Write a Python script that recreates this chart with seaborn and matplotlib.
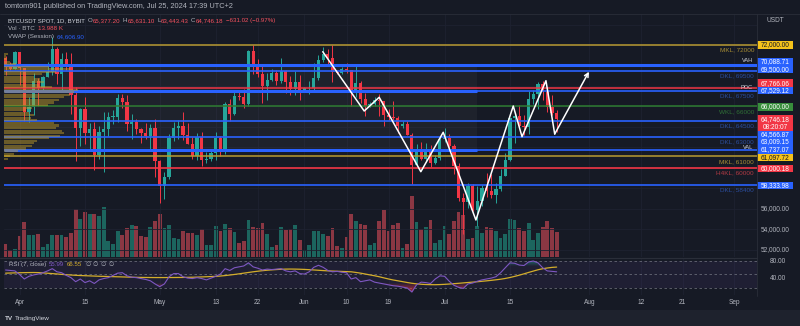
import numpy as np
import pandas as pd
import matplotlib
matplotlib.use("Agg")
import matplotlib.pyplot as plt
from matplotlib.patches import Rectangle
import seaborn as sns

# ---------------- data: BTCUSDT spot, daily, 29 Mar - 25 Jul 2024 ----------------
dates = pd.date_range("2024-03-29", "2024-07-25", freq="D")

opens = [70744, 69892, 69645, 71333, 69702, 65446, 65980, 68508, 67837, 68896,
         69361, 71620, 69146, 70631, 70006, 67117, 63924, 65740, 63419, 63793,
         61277, 63470, 63818, 64941, 64960, 66837, 66408, 64277, 64481, 63755,
         63420, 63107, 63841, 60636, 58254, 59123, 62889, 63891, 64031, 63161,
         62334, 61187, 63049, 60792, 60825, 61484, 62940, 61577, 66206, 65235,
         67024, 66915, 66274, 71446, 70148, 69166, 67969, 68549, 69290, 68507,
         69436, 68398, 67652, 68353, 67531, 67760, 67819, 68805, 70567, 71082,
         70757, 69342, 69305, 69647, 69512, 67319, 68243, 66756, 66011, 66192,
         66639, 66491, 65140, 64960, 64828, 64096, 64252, 63180, 60277, 61804,
         60864, 61706, 60427, 60986, 62772, 62900, 62135, 60208, 57050, 56628,
         58230, 55849, 56705, 58009, 57742, 57345, 57899, 59232, 60788, 64870,
         65097, 64118, 63974, 66710, 67163, 68166, 67533, 65937, 65377.20]
highs = [70913, 70355, 71377, 71342, 69708, 66914, 69291, 68725, 69000, 70327,
         72797, 71758, 71172, 71305, 71227, 67932, 65840, 66878, 64365, 64499,
         64125, 65450, 65419, 65666, 67232, 67199, 67075, 65275, 64792, 63900,
         64361, 64236, 64735, 60781, 59603, 63320, 64494, 64646, 65494, 64390,
         62995, 63421, 63469, 61490, 61844, 63450, 63118, 66444, 66752, 67451,
         67400, 67700, 71515, 71980, 70666, 70096, 69250, 69610, 69562, 70687,
         69591, 68935, 69500, 69020, 67860, 68460, 70288, 71063, 71758, 71625,
         71997, 69582, 69850, 70196, 69563, 69999, 68449, 67315, 66400, 66950,
         67188, 66556, 65738, 66482, 65066, 64520, 64524, 63369, 62292, 62487,
         62389, 62225, 61224, 63058, 63861, 63288, 62285, 60499, 57546, 58475,
         58449, 58236, 58296, 59470, 59360, 58526, 59850, 61420, 64900, 65388,
         66128, 65133, 67486, 67598, 68366, 68480, 67818, 67102, 65631.10]
lows = [69076, 69601, 69624, 68110, 64586, 64493, 65113, 66011, 67438, 68824,
        69043, 68210, 67518, 69567, 65254, 60660, 62134, 62333, 61600, 59768,
        60833, 59600, 63090, 64229, 64500, 65863, 63589, 62784, 63322, 62424,
        62794, 61765, 59120, 56552, 56937, 58848, 62599, 62822, 62746, 62285,
        60888, 60769, 60187, 60492, 60610, 60749, 61142, 61320, 64603, 65107,
        66600, 65857, 66060, 69162, 68832, 66312, 66600, 68500, 68128, 68250,
        67277, 67124, 67119, 66670, 67445, 67257, 67612, 68567, 70383, 70120,
        68420, 69208, 69125, 69233, 66051, 66902, 66300, 65078, 65890, 66036,
        65104, 64060, 64693, 64559, 63379, 63929, 63178, 58402, 60239, 60712,
        60606, 60063, 60383, 60712, 62497, 61806, 59400, 56771, 53485, 56018,
        55724, 54260, 56289, 57157, 57052, 56542, 57756, 59200, 60633, 62373,
        63900, 63238, 63300, 66222, 65777, 66573, 65441, 65111, 63443.43]
closes = [69892, 69645, 71333, 69702, 65446, 65980, 68508, 67837, 68896, 69361,
          71620, 69146, 70631, 70006, 67117, 63924, 65740, 63419, 63793, 61277,
          63470, 63818, 64941, 64960, 66837, 66408, 64277, 64481, 63755, 63420,
          63107, 63841, 60636, 58254, 59123, 62889, 63891, 64031, 63161, 62334,
          61187, 63049, 60792, 60825, 61484, 62940, 61577, 66206, 65235, 67024,
          66915, 66274, 71446, 70148, 69166, 67969, 68549, 69290, 68507, 69436,
          68398, 67652, 68353, 67531, 67760, 67819, 68805, 70567, 71082, 70757,
          69342, 69305, 69647, 69512, 67319, 68243, 66756, 66011, 66192, 66639,
          66491, 65140, 64960, 64828, 64096, 64252, 63180, 60277, 61804, 60864,
          61706, 60427, 60986, 62772, 62900, 62135, 60208, 57050, 56628, 58230,
          55849, 56705, 58009, 57742, 57345, 57899, 59232, 60788, 64870, 65097,
          64118, 63974, 66710, 67163, 68166, 67533, 65937, 65377.20, 64746.18]
volume_k = [7.5, 3.7, 4.3, 11.6, 19.6, 12.5, 12.5, 13.1, 5.6, 7.3,
            12.5, 12.1, 12.5, 11.2, 13.6, 26.7, 21.1, 25.2, 23.9, 23.9,
            22.8, 28.0, 8.8, 7.3, 14.4, 12.5, 16.2, 17.7, 17.2, 11.7,
            11.2, 16.6, 20.3, 23.9, 16.2, 17.7, 10.6, 10.3, 14.4, 13.2,
            13.2, 12.1, 15.7, 6.9, 6.9, 17.2, 14.7, 18.5, 16.0, 14.0,
            7.6, 9.1, 20.5, 16.6, 16.2, 19.0, 12.7, 5.6, 6.9, 16.6,
            15.1, 15.9, 18.1, 9.3, 3.7, 6.5, 14.5, 14.5, 13.1, 11.7,
            16.4, 6.0, 5.2, 11.0, 23.9, 20.3, 18.5, 17.7, 6.7, 7.8,
            20.1, 26.5, 14.4, 17.7, 19.0, 5.2, 7.1, 34.0, 19.8, 15.9,
            16.8, 20.9, 8.0, 9.3, 17.2, 12.7, 20.0, 25.2, 23.7, 10.3,
            10.8, 17.3, 13.2, 16.6, 16.2, 14.4, 10.8, 13.1, 21.1, 20.9,
            16.2, 14.7, 19.2, 9.7, 13.6, 16.6, 20.0, 16.4, 13.988]

# RSI(7) and its moving average, one value per candle
rsi_values = [60, 59, 58, 50, 40, 46, 49, 51, 54, 58, 63, 56, 54, 48, 43, 34, 40, 32, 36, 30,
              38, 41, 43, 48, 53, 54, 47, 44, 43, 41, 39, 36, 29,
              23, 29, 45, 52, 52, 45, 42, 41, 43, 41, 38, 42, 46, 51, 63, 59, 65, 67, 69, 76,
              67, 64, 60, 62, 61, 62, 63, 58, 56, 58, 52,
              51, 56, 66, 70.5, 66, 59, 56, 57, 55, 54, 40, 43, 34, 36, 38, 33, 31, 29, 27, 25,
              24, 22, 20, 11, 27, 33, 32, 30, 40, 47,
              46, 35, 26, 21.5, 19, 29, 31, 35, 38, 40, 42, 45, 54, 65, 76, 75, 71, 70, 78, 80,
              76, 65, 58, 57, 55.99]
rsi_ma_values = [53, 53.3, 53.6, 53.9, 54.1, 54.3, 54.4, 54.2, 53.6, 52.8, 52, 51.2, 50.3, 49.5,
                 48.8, 48.2, 47.7, 47.3, 46.9, 46.5, 46.1, 45.8, 45.5, 45.2, 44.9, 44.6, 44.3,
                 44, 43.7, 43.5, 43.4, 43.3, 43.2, 43.2, 43.2, 43.3, 43.3, 43.4, 43.5, 43.7,
                 43.9, 44.2, 44.6, 45, 45.4, 45.8, 46.6, 47.6, 48.8, 50.1, 51.5, 53, 54.5, 56,
                 57.3, 58.5, 59.5, 60.3, 61, 61.6, 62, 62.1, 62, 61.7, 61.3, 60.7, 60.1, 59.4,
                 58.7, 58.1, 57.6, 57.2, 56.8, 56.4, 56, 54.6, 53, 51.1, 49.1, 47.2, 45, 42.5,
                 40, 37.8, 36, 34.1, 32.2, 30.5, 29.2, 28.3, 27.7, 27.4, 27.3, 27.6, 28.1, 28.8,
                 29.6, 30.4, 31.3, 32.2, 33, 33.9, 34.9, 35.9, 37, 38.2, 39.5, 41.2, 43.3, 45.8,
                 48.5, 51.5, 54.6, 57.6, 60.5, 62.8, 64.5, 65.8, 66.55]

# fixed-range volume profile (row low price, relative row volume), top to bottom
profile_rows = list(range(71000, 60500, -250))
profile_volume = [4, 2, 3, 6, 12, 45, 66, 52, 38, 30, 36, 40, 35, 48, 74, 70, 66, 60, 55, 50,
                  44, 28, 22, 25, 30, 27, 33, 50, 55, 52, 58, 60, 56, 45, 33, 30, 28, 22, 14,
                  10, 6, 4]
profile_end = pd.Timestamp("2024-07-08")

# horizontal key levels
level_prices = [72000.00, 70088.71, 69500.00, 67766.06, 67529.12, 66000.00,
                64566.87, 63009.15, 61737.07, 61097.72, 60000.18, 58333.98]
level_kinds = ["mkl", "va", "dkl", "red", "poc", "wkl", "dkl", "dkl", "val", "mkl", "h4", "dkl"]
level_names = ["MKL, 72000", "", "DKL, 69500", "", "DKL, 67500", "WKL, 66000",
               "DKL, 64500", "DKL, 63000", "", "MKL, 61000", "H4KL, 60000", "DKL, 58400"]
level_tags = ["", "VAH", "", "", "POC", "", "", "", "VAL", "", "", ""]

# hand-drawn projection path (date, price)
path_dates = pd.to_datetime(["2024-06-04 22:00", "2024-06-13 19:00", "2024-06-17 00:00",
                             "2024-06-25 22:00", "2024-06-30 17:00", "2024-07-07 17:00",
                             "2024-07-15 17:00", "2024-07-17 14:00", "2024-07-22 17:00",
                             "2024-07-24 14:00", "2024-07-31 22:00"], format="%Y-%m-%d %H:%M")
path_prices = [71345, 65545, 66885, 59609, 63462, 54885, 66034, 63032, 68509, 63296, 69389]

last_close = 64746.18
countdown = "08:20:07"

# ---------------- styling ----------------
BG = "#161a25"
FOOT = "#1e222d"
GRID = "#1e2230"
SEP = "#2a2e39"
TXT = "#b2b5be"
UP, DOWN = "#26a69a", "#f23645"
BLUE, GOLD, GREEN = "#2962ff", "#c9a227", "#388e3c"

sns.set_theme(style="dark", rc={"axes.facecolor": BG, "figure.facecolor": BG})
plt.rcParams["font.family"] = ["Liberation Sans", "DejaVu Sans"]

W, H = 800, 326
fig = plt.figure(figsize=(W / 100, H / 100), dpi=100, facecolor=BG)


def fx(px):
    return px / W


def fy(py):
    return 1 - py / H


PANE_L, PANE_R = 4, 757
PRICE_T, PRICE_B = 14, 257
RSI_T, RSI_B = 258, 295
X_LO, X_HI = -0.34, 160.9
P_MIN, P_MAX = 51267, 75032
R_MIN, R_MAX = 4.4, 86.7
VOL_MAX = 136

rect_price = [fx(PANE_L), fy(PRICE_B), (PANE_R - PANE_L) / W, (PRICE_B - PRICE_T) / H]
ax_vol = fig.add_axes(rect_price)
ax = fig.add_axes(rect_price)
ax_rsi = fig.add_axes([fx(PANE_L), fy(RSI_B), (PANE_R - PANE_L) / W, (RSI_B - RSI_T) / H])

idx = np.arange(len(dates))
o, h, l, c = (np.array(v, dtype=float) for v in (opens, highs, lows, closes))
up = c >= o
candle_col = np.where(up, UP, DOWN)


def day_pos(ts):
    return (pd.Timestamp(ts) - dates[0]) / pd.Timedelta(days=1)


def price_py(p):
    return PRICE_T + (P_MAX - p) / (P_MAX - P_MIN) * (PRICE_B - PRICE_T)


def pos_px(x):
    return PANE_L + (x - X_LO) / (X_HI - X_LO) * (PANE_R - PANE_L)


# grid
tick_dates = ["2024-04-01", "2024-04-15", "2024-05-01", "2024-05-13", "2024-05-22", "2024-06-01",
              "2024-06-10", "2024-06-19", "2024-07-01", "2024-07-15", "2024-08-01", "2024-08-12",
              "2024-08-21", "2024-09-01"]
tick_text = ["Apr", "15", "May", "13", "22", "Jun", "10", "19", "Jul", "15", "Aug", "12", "21", "Sep"]
for d in tick_dates:
    xp = day_pos(d)
    ax.axvline(xp, color=GRID, lw=0.6, zorder=0)
    ax_rsi.axvline(xp, color=GRID, lw=0.6, zorder=0)
for p in range(52000, 76000, 2000):
    ax.axhline(p, color=GRID, lw=0.6, zorder=0)

# volume
vol_col = np.where(up, "#22ab94", "#f7525f")
ax_vol.bar(idx, volume_k, width=0.8, color=vol_col, alpha=0.52, linewidth=0)

# value area shading of the profile
pe = day_pos(profile_end)
va_hi, va_lo = level_prices[1], level_prices[8]
ax.add_patch(Rectangle((X_LO, va_lo), pe - X_LO, va_hi - va_lo, facecolor="white",
                       alpha=0.035, edgecolor="none", zorder=0.5))

# candles
ax.vlines(idx, l, h, colors=candle_col, lw=0.7, zorder=3)
body_lo = np.minimum(o, c)
body_h = np.maximum(np.abs(c - o), 70)
ax.bar(idx, body_h, bottom=body_lo, width=0.68, color=candle_col, linewidth=0, zorder=3.1)

# horizontal levels
line_style = {
    "mkl": dict(color="#b89a32", lw=1.1),
    "va": dict(color=BLUE, lw=2.2),
    "dkl": dict(color=BLUE, lw=1.2),
    "red": dict(color=DOWN, lw=1.1),
    "poc": dict(color=BLUE, lw=1.2),
    "val": dict(color=BLUE, lw=1.2),
    "wkl": dict(color="#2e7d32", lw=1.1),
    "h4": dict(color=DOWN, lw=1.2),
}
name_color = {"mkl": "#a88d33", "dkl": "#2b4d9e", "poc": "#2b4d9e", "wkl": "#2f7036",
              "h4": "#b23a44"}
for p, k in zip(level_prices, level_kinds):
    ax.axhline(p, zorder=4, **line_style[k])
    if k in ("poc", "val"):
        ax.hlines(p, X_LO, pe, color=BLUE, lw=2.2, zorder=4)

# volume profile histogram
prof_scale = 15.8 / max(profile_volume)
ax.barh(np.array(profile_rows) + 125, np.array(profile_volume) * prof_scale, height=210,
        left=X_LO, color=GOLD, alpha=0.45, linewidth=0, zorder=5)

# projection path
px_path = [day_pos(d) for d in path_dates]
sns.lineplot(x=px_path[:-1], y=path_prices[:-1], sort=False, estimator=None, color="white",
             lw=1.1, ax=ax, zorder=6, legend=False)
ax.annotate("", xy=(px_path[-1], path_prices[-1]), xytext=(px_path[-2], path_prices[-2]),
            arrowprops=dict(arrowstyle="->", color="white", lw=1.1, shrinkA=0, shrinkB=0,
                            mutation_scale=7), zorder=6)

# ---- RSI pane ----
rsi = np.array(rsi_values, dtype=float)
ax_rsi.axhspan(20, 80, color="#7e57c2", alpha=0.09, lw=0, zorder=0)
for lvl in (80, 50, 20):
    ax_rsi.axhline(lvl, color="#787b86", lw=0.6, ls=(0, (3, 3)), alpha=0.8, zorder=1)
# gradient fills beyond 70 / 30
for t in np.arange(70, 100, 2.5):
    ax_rsi.fill_between(idx, t, rsi, where=rsi > t, interpolate=True, color="#26a69a",
                        alpha=0.12, lw=0, zorder=2)
for t in np.arange(30, 0, -2.5):
    ax_rsi.fill_between(idx, t, rsi, where=rsi < t, interpolate=True, color=DOWN,
                        alpha=0.12, lw=0, zorder=2)
sns.lineplot(x=idx, y=rsi_ma_values, color="#d4ae2b", lw=0.9, ax=ax_rsi, zorder=3, legend=False)
sns.lineplot(x=idx, y=rsi, color="#7e57c2", lw=0.8, ax=ax_rsi, zorder=4, legend=False)

for a in (ax_vol, ax, ax_rsi):
    a.set_xlim(X_LO, X_HI)
    a.set_axis_off()
ax.set_ylim(P_MIN, P_MAX)
ax_vol.set_ylim(0, VOL_MAX)
ax_rsi.set_ylim(R_MIN, R_MAX)

# ---- frame pieces ----
fig.add_artist(Rectangle((0, 0), 1, 16 / H, transform=fig.transFigure, facecolor=FOOT,
                         edgecolor="none"))
fig.add_artist(plt.Line2D([0, 1], [fy(14), fy(14)], color=SEP, lw=0.6))
fig.add_artist(plt.Line2D([0, fx(PANE_R)], [fy(257.5), fy(257.5)], color=SEP, lw=0.8))
fig.add_artist(plt.Line2D([fx(PANE_R), fx(PANE_R)], [fy(296), fy(14)], color=SEP, lw=0.6))

renderer = fig.canvas.get_renderer()


def text_run(x_px, y_px, parts, size, gap=2.2):
    x = x_px
    for s, col in parts:
        t = fig.text(fx(x), fy(y_px), s, color=col, fontsize=size, ha="left", va="center")
        x += t.get_window_extent(renderer=renderer).width + gap
    return x


RED_T = "#f7525f"
fig.text(fx(5), fy(7), "tomtom901 published on TradingView.com, Jul 25, 2024 17:39 UTC+2",
         color=TXT, fontsize=5.3, ha="left", va="center")
x0 = text_run(8, 20.5, [("BTCUSDT SPOT, 1D, BYBIT", "#d1d4dc")], 4.3, gap=3)
for lab, val in (("O", opens[-1]), ("H", highs[-1]), ("L", lows[-1]), ("C", closes[-1])):
    x0 = text_run(x0, 20.5, [(lab, TXT)], 4.4, gap=0.3)
    x0 = text_run(x0, 20.5, [(f"{val:,.2f}", RED_T)], 4.4, gap=2.4)
chg = closes[-1] - opens[-1]
text_run(x0, 20.5, [(f"\u2212{abs(chg):,.2f} (\u2212{abs(chg) / opens[-1] * 100:.2f}%)", RED_T)], 4.4)
text_run(8, 28.5, [("Vol \u00b7 BTC", TXT), (f"{volume_k[-1]:.3f} K", RED_T)], 4.5, gap=3)
text_run(8, 36.5, [("VWAP (Session)", TXT), ("64,606.90", BLUE)], 4.5, gap=3)

# line names and tags next to the price scale
for p, k, nm, tg in zip(level_prices, level_kinds, level_names, level_tags):
    yp = price_py(p)
    if nm:
        dy = 4.4 if k == "dkl" and p < 63100 and p > 62900 else 5.2
        fig.text(fx(754), fy(yp + dy), nm, color=name_color[k], fontsize=4.6, ha="right",
                 va="center")
    if tg:
        dy = {"VAH": -4.5, "POC": -3.6, "VAL": -2.6}[tg]
        fig.text(fx(753), fy(yp + dy), tg, color="#d1d4dc", fontsize=4.1, ha="right", va="center")

# price scale tags
tag_face = {"mkl": "#f5c21b", "va": BLUE, "dkl": BLUE, "red": DOWN, "poc": BLUE, "val": BLUE,
            "wkl": GREEN, "h4": DOWN}
tag_shift = [0, -2.5, -1, -5, -0.3, 0.6, 14, 5, 0, 1, 0.8, 0.8]


def price_tag(y_px, text, face, fg, hgt=7.6):
    fig.add_artist(Rectangle((fx(757), fy(y_px + hgt / 2)), 36 / W, hgt / H,
                             transform=fig.transFigure, facecolor=face, edgecolor="none"))
    fig.text(fx(775.3), fy(y_px), text, color=fg, fontsize=4.7, ha="center", va="center")


for p, k, s in zip(level_prices, level_kinds, tag_shift):
    fg = "#131722" if k == "mkl" else "white"
    price_tag(price_py(p) + s, f"{p:,.2f}", tag_face[k], fg)

yc = price_py(last_close)
fig.add_artist(Rectangle((fx(757), fy(yc + 12.3)), 36 / W, 16.3 / H,
                         transform=fig.transFigure, facecolor=DOWN, edgecolor="none"))
fig.text(fx(775.3), fy(yc + 0.6), f"{last_close:,.2f}", color="white", fontsize=4.7,
         ha="center", va="center")
fig.text(fx(775.3), fy(yc + 8.4), countdown, color="white", fontsize=4.7, ha="center",
         va="center")

for p in (56000, 54000, 52000):
    fig.text(fx(775.3), fy(price_py(p)), f"{p:,.2f}", color=TXT, fontsize=4.7, ha="center",
             va="center")
fig.text(fx(775.3), fy(20), "USDT", color=TXT, fontsize=4.7, ha="center", va="center")


def rsi_py(v):
    return RSI_T + (R_MAX - v) / (R_MAX - R_MIN) * (RSI_B - RSI_T)


for v in (80, 40):
    fig.text(fx(778), fy(rsi_py(v)), f"{v:.2f}", color=TXT, fontsize=4.7, ha="center",
             va="center")
xr = text_run(9, 264.5, [("RSI (7, close)", TXT)], 4.4, gap=2.5)
xr = text_run(xr, 264.5, [(f"{rsi_values[-1]:.2f}", "#7e57c2"),
                          (f"{rsi_ma_values[-1]:.2f}", "#d4ae2b")], 4.4, gap=2.5)
text_run(xr + 1, 264.5, [("\u2205", TXT), ("\u2205", TXT), ("\u2205", TXT), ("\u2205", TXT)],
         4.4, gap=2.2)

# time axis
for d, t in zip(tick_dates, tick_text):
    fig.text(fx(pos_px(day_pos(d))), fy(303), t, color=TXT, fontsize=4.7, ha="center",
             va="center")

# footer logo
fig.text(fx(5), fy(318.5), "TV", color="#d1d4dc", fontsize=4.6, fontweight="bold",
         ha="left", va="center")
fig.text(fx(15), fy(318.5), "TradingView", color="#d1d4dc", fontsize=4.6, ha="left",
         va="center")

fig.savefig("out.png", dpi=100, facecolor=BG)
